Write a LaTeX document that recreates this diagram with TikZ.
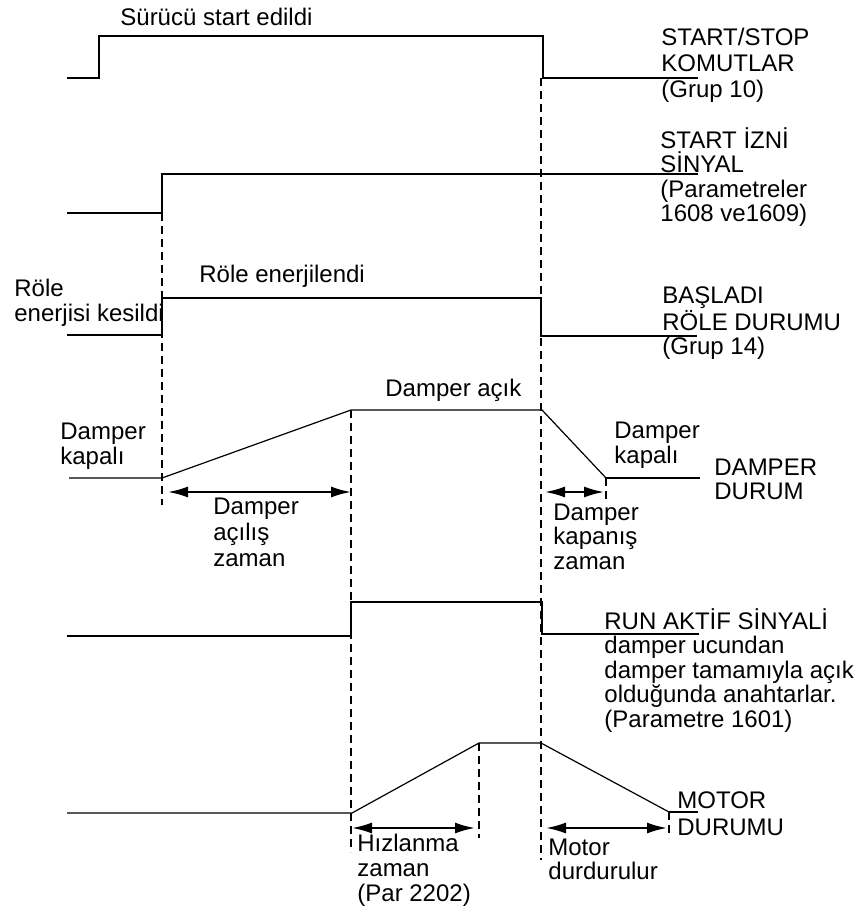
\documentclass[tikz,border=0pt]{standalone}
\usepackage{fontspec}
\setmainfont{Liberation Sans}
\usetikzlibrary{arrows.meta}

\begin{document}
\begin{tikzpicture}[
  x=0.5pt, y=-0.5pt,
  signal/.style={line width=1.1pt, line join=miter},
  ramp/.style={line width=0.6pt},
  marker/.style={line width=1.2pt, dash pattern=on 4pt off 2.5pt},
  span/.style={{Latex[length=10pt,width=5.5pt]}-{Latex[length=10pt,width=5.5pt]},
               line width=1pt},
  lbl/.style={anchor=base west, inner sep=0pt, align=left,
              font=\fontsize{12}{12.5}\selectfont}
]
  \useasboundingbox (0,0) rectangle (856,913);

  % time markers
  \draw[marker] (162,213) -- (162,505);
  \draw[marker] (351,410) -- (351,852);
  \draw[marker] (479,743) -- (479,838);
  \draw[marker] (541,78) -- (541,860);
  \draw[marker] (606,478) -- (606,501);
  \draw[marker] (669,812) -- (669,838);

  % waveforms
  \draw[signal] (67,78) -- (99,78) -- (99,36) -- (543,36) -- (543,78) -- (698,78);
  \draw[signal] (67,213) -- (162,213) -- (162,174) -- (698,174);
  \draw[signal] (67,335) -- (162,335) -- (162,298) -- (541,298) -- (541,336) -- (697,336);
  \draw[ramp] (69,478) -- (162,478) -- (351,410) -- (542,410) -- (606,478);
  \draw[signal] (606,478) -- (700,478);
  \draw[signal] (67,636) -- (351,636) -- (351,602) -- (542,602) -- (542,634) -- (699,634);
  \draw[ramp] (67,813) -- (352,813) -- (479,743) -- (541,743) -- (669,812);
  \draw[signal] (669,812) -- (698,812);

  % durations
  \draw[span] (168,492) -- (351,492);
  \draw[span] (545,492) -- (604,492);
  \draw[span] (352,828) -- (475,828);
  \draw[span] (546,828) -- (667,828);

  % texts (multi-line nodes sit on their last baseline)
  \node[lbl] (started) at (120,26) {Sürücü start edildi};
  \node[lbl, font=\fontsize{12}{13}\selectfont] (startstop) at (661,98)
    {START/STOP\\KOMUTLAR\\(Grup 10)};
  \node[lbl, font=\fontsize{12}{12.3}\selectfont] (permit) at (660,222)
    {START İZNİ\\SİNYAL\\(Parametreler\\1608 ve1609)};
  \node[lbl] (deenergized) at (14,322) {Röle\\enerjisi kesildi};
  \node[lbl] (energized) at (199,283) {Röle enerjilendi};
  \node[lbl, font=\fontsize{12}{12}\selectfont] (relay) at (662,355)
    {BAŞLADI\\RÖLE DURUMU\\(Grup 14)};
  \node[lbl] (opened) at (385,397) {Damper açık};
  \node[lbl, font=\fontsize{12}{10.5}\selectfont] (closedleft) at (60,464)
    {Damper\\kapalı};
  \node[lbl, font=\fontsize{12}{10.5}\selectfont] (closedright) at (614,463)
    {Damper\\kapalı};
  \node[lbl, font=\fontsize{12}{12}\selectfont] (damper) at (714,499)
    {DAMPER\\DURUM};
  \node[lbl, font=\fontsize{12}{12.8}\selectfont] (opentime) at (213,566)
    {Damper\\açılış\\zaman};
  \node[lbl, font=\fontsize{12}{12.2}\selectfont] (closetime) at (553,569)
    {Damper\\kapanış\\zaman};
  \node[lbl, font=\fontsize{12}{12.2}\selectfont] (runactive) at (604,727)
    {RUN AKTİF SİNYALİ\\damper ucundan\\damper tamamıyla açık\\olduğunda anahtarlar.\\(Parametre 1601)};
  \node[lbl, font=\fontsize{12}{13.5}\selectfont] (motor) at (677,835)
    {MOTOR\\DURUMU};
  \node[lbl, font=\fontsize{12}{12}\selectfont] (stopped) at (548,879)
    {Motor\\durdurulur};
  \node[lbl, font=\fontsize{12}{12.3}\selectfont] (accel) at (357,901)
    {Hızlanma\\zaman\\(Par 2202)};
\end{tikzpicture}
\end{document}
